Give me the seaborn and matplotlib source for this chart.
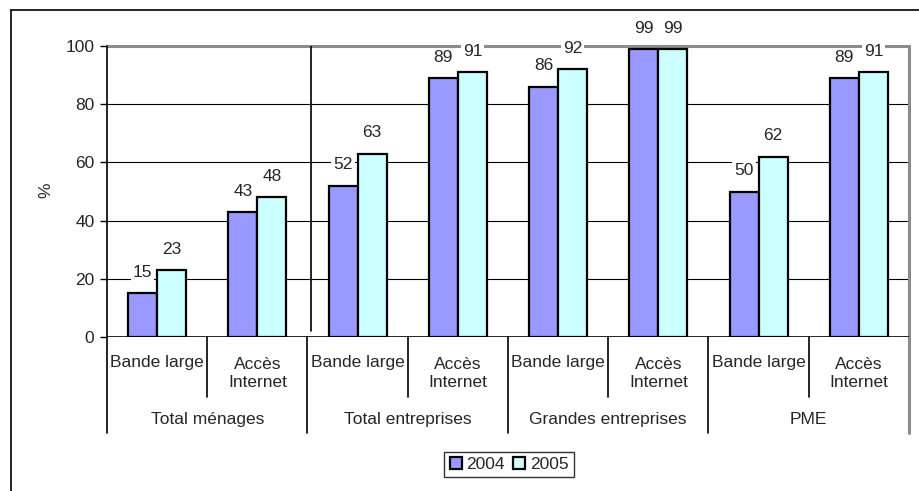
import pandas as pd
import matplotlib.pyplot as plt
import matplotlib.lines as mlines
import seaborn as sns

# données
groups = ["Total ménages", "Total entreprises", "Grandes entreprises", "PME"]
subcats = ["Bande large", "Accès\nInternet"]
years = ["2004", "2005"]
vals_2004 = [15, 43, 52, 89, 86, 99, 50, 89]
vals_2005 = [23, 48, 63, 91, 92, 99, 62, 91]
colors = {"2004": "#9999FF", "2005": "#CCFFFF"}

sns.set_style("white")
plt.rcParams['font.family'] = ['Liberation Sans', 'DejaVu Sans']
fs = 12.5

slots = [f"{g}|{s}" for g in groups for s in subcats]
df = pd.DataFrame({
    "slot": slots * 2,
    "year": ["2004"] * len(slots) + ["2005"] * len(slots),
    "value": vals_2004 + vals_2005,
})

fig = plt.figure(figsize=(9.2, 4.91), dpi=100)
ax = fig.add_axes([107 / 920, 1 - 337 / 491, (909 - 107) / 920, (337 - 46) / 491])

sns.barplot(data=df, x="slot", y="value", hue="year", order=slots, hue_order=years,
            palette=colors, width=0.58, edgecolor="black", linewidth=1.6,
            saturation=1, ax=ax, legend=True, zorder=3)

ax.set_xlim(-0.5, len(slots) - 0.5)
ax.set_ylim(0, 100)
ax.set_yticks([0, 20, 40, 60, 80, 100])
ax.tick_params(axis="y", length=5, width=1, color="black", labelsize=fs, pad=4, left=True)
ax.set_xticks([])
ax.set_xlabel("")
ax.set_ylabel("%", fontsize=fs)
ax.yaxis.set_label_coords(-0.067, 0.505)

# quadrillage
for yv in [20, 40, 60, 80]:
    ax.axhline(yv, color="black", lw=0.8, zorder=1)
ax.axhline(100, color="#8c8c8c", lw=2.2, zorder=1, clip_on=False)

for s in ["top", "bottom", "right", "left"]:
    ax.spines[s].set_visible(False)
ax.axhline(0, color="black", lw=1.2, zorder=4)

# trait vertical parasite présent sur l'original
ax.axvline(1.53, ymin=0.02, ymax=1, color="black", lw=1.2, zorder=2)

# étiquettes de valeur
for cont in ax.containers:
    for bar in cont:
        h = bar.get_height()
        ax.annotate(f"{h:.0f}", (bar.get_x() + bar.get_width() / 2, h),
                    xytext=(0, 15), textcoords="offset points",
                    ha="center", va="center", fontsize=fs, zorder=5,
                    bbox=dict(fc="white", ec="none", pad=1.5))

# axe des catégories à deux niveaux
trans = ax.get_xaxis_transform()
n = len(slots)
for i in range(n + 1):
    x = i - 0.5
    if i == 0:
        ax.plot([x, x], [-0.33, 1.0], transform=trans, color="black", lw=1.2, clip_on=False)
    elif i == n:
        ax.plot([x, x], [-0.33, 1.0], transform=trans, color="#8c8c8c", lw=2.2, clip_on=False)
    elif i % 2 == 0:
        ax.plot([x, x], [-0.33, 0], transform=trans, color="black", lw=1.2, clip_on=False)
    else:
        ax.plot([x, x], [-0.206, 0], transform=trans, color="black", lw=1.2, clip_on=False)

for i, s in enumerate(slots):
    sub = s.split("|")[1]
    yy = -0.125 if "\n" in sub else -0.086
    ax.text(i, yy, sub, transform=trans, ha="center", va="center", fontsize=fs,
            linespacing=1.3)
for j, g in enumerate(groups):
    ax.text(2 * j + 0.5, -0.285, g, transform=trans, ha="center", va="center", fontsize=fs)

# légende
handles, labels = ax.get_legend_handles_labels()
ax.get_legend().remove()
leg = fig.legend(handles, labels, loc="center", bbox_to_anchor=(509 / 920, 1 - 464.5 / 491),
                 ncol=2, frameon=True, fancybox=False, edgecolor="black", fontsize=fs,
                 handlelength=0.7, handleheight=0.7, handletextpad=0.25,
                 columnspacing=0.5, borderpad=0.3)
leg.get_frame().set_linewidth(1)

# cadre extérieur (seulement gauche et haut visibles)
fig.add_artist(mlines.Line2D([11 / 920, 11 / 920], [0, 1 - 10 / 491], color="black", lw=1.2))
fig.add_artist(mlines.Line2D([11 / 920, 1], [1 - 10 / 491, 1 - 10 / 491], color="black", lw=1.2))

fig.savefig("out.png", dpi=100, facecolor="white")
